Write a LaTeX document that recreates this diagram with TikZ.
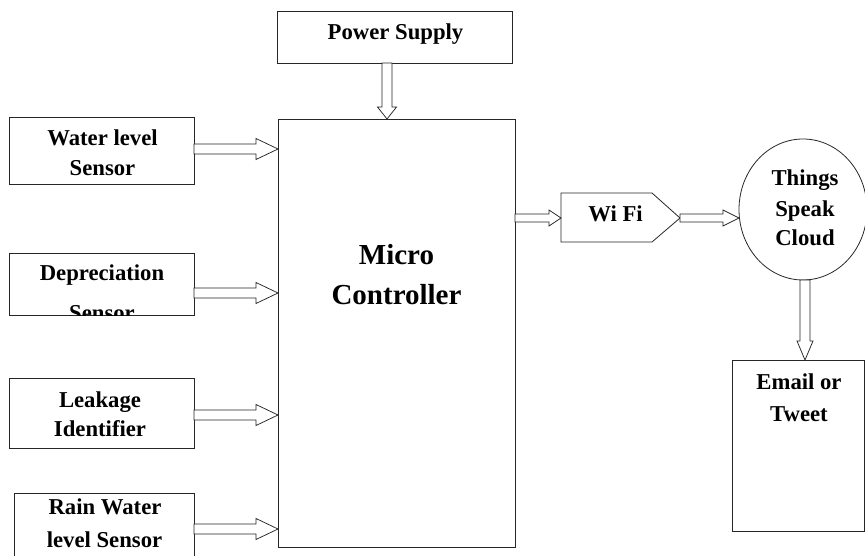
\documentclass[tikz,border=0pt]{standalone}
\usepackage{fontspec}
\setmainfont{Liberation Serif}
\usetikzlibrary{calc,shapes.geometric}
\tikzset{
  box/.style={draw=black!85, line width=0.8pt, inner sep=0pt, outer sep=0pt, fill=white},
  txt/.style={font=\bfseries\fontsize{22.7}{26}\selectfont, anchor=base, inner sep=0pt, text=black},
  bigtxt/.style={font=\bfseries\fontsize{29}{34}\selectfont, anchor=base, inner sep=0pt, text=black},
  hollowarrow/.style={draw=black!85, line width=0.75pt, fill=white, line join=miter},
}
% #1 start, #2 end, #3 shaft half width, #4 head half width, #5 head length
\newcommand{\hollow}[5]{%
  \coordinate (hA) at (#1);
  \coordinate (hB) at (#2);
  \coordinate (hH) at ($(hB)!#5!(hA)$);
  \draw[hollowarrow] ($(hA)!#3!90:(hB)$) -- ($(hH)!#3!-90:(hA)$) -- ($(hH)!#4!-90:(hA)$)
     -- (hB) -- ($(hH)!#4!90:(hA)$) -- ($(hH)!#3!90:(hA)$) -- ($(hA)!#3!-90:(hB)$) -- cycle;
}
\begin{document}
\begin{tikzpicture}[x=1pt,y=-1pt]
\useasboundingbox (0,0) rectangle (865,556);
\clip (0,0) rectangle (865,556);

% boxes
\node[box, minimum width=235, minimum height=52] (ps) at (394.5,37) {};
\node[box, minimum width=237, minimum height=428] (mc) at (396.5,333) {};
\node[box, minimum width=185, minimum height=67] (wls) at (101.5,150.5) {};
\node[box, minimum width=185, minimum height=62] (dep) at (101.5,284) {};
\node[box, minimum width=185, minimum height=70] (leak) at (101.5,413) {};
\node[box, minimum width=180, minimum height=77] (rain) at (104,531.5) {};
\node[box, minimum width=132, minimum height=171] (email) at (798,445.5) {};
\node[box, ellipse, minimum width=128, minimum height=141] (cloud) at (803,209.5) {};

% Wi Fi pentagon
\coordinate (wifiW) at (561,218);
\coordinate (wifiE) at (680,218);
\draw[box] (561,193) -- (652,193) -- (wifiE) -- (652,242) -- (561,242) -- cycle;

% texts
\node[txt] (pst) at (395.5,40) {Power Supply};
\node[txt] (wls1) at (102.5,146) {Water level};
\node[txt] (wls2) at (102.5,176) {Sensor};
\node[txt] (dep1) at (102,280) {Depreciation};
\begin{scope}
  \clip (dep.south west) rectangle (dep.north east);
  \node[txt] (dep2) at (102,320) {Sensor};
\end{scope}
\node[txt] (leak1) at (100,407) {Leakage};
\node[txt] (leak2) at (100,436) {Identifier};
\node[txt] (rain1) at (105,514) {Rain Water};
\node[txt] (rain2) at (104.5,547) {level Sensor};
\node[bigtxt] (mc1) at (396.5,265) {Micro};
\node[bigtxt] (mc2) at (396.5,304) {Controller};
\node[txt] (wifit) at (615.5,222) {Wi Fi};
\node[txt] (cl1) at (805,186) {Things};
\node[txt] (cl2) at (805,217) {Speak};
\node[txt] (cl3) at (805,246) {Cloud};
\node[txt] (em1) at (799,389) {Email or};
\node[txt] (em2) at (799,421) {Tweet};

% arrows
\hollow{ps.south -| 387,0}{mc.north -| 387,0}{5pt}{9.5pt}{12pt}
\hollow{wls.east |- 0,149}{mc.west |- 0,149}{5pt}{10.5pt}{22pt}
\hollow{dep.east |- 0,293}{mc.west |- 0,293}{5pt}{10.5pt}{22pt}
\hollow{leak.east |- 0,415}{mc.west |- 0,415}{5pt}{10.5pt}{22pt}
\hollow{rain.east |- 0,529}{mc.west |- 0,529}{5pt}{10.5pt}{22pt}
\hollow{mc.east |- wifiW}{wifiW}{4pt}{8pt}{12pt}
\hollow{wifiE}{cloud.west |- wifiE}{4pt}{8pt}{16pt}
\hollow{cloud.south -| 805,0}{email.north -| 805,0}{5pt}{8pt}{19pt}
\end{tikzpicture}
\end{document}
